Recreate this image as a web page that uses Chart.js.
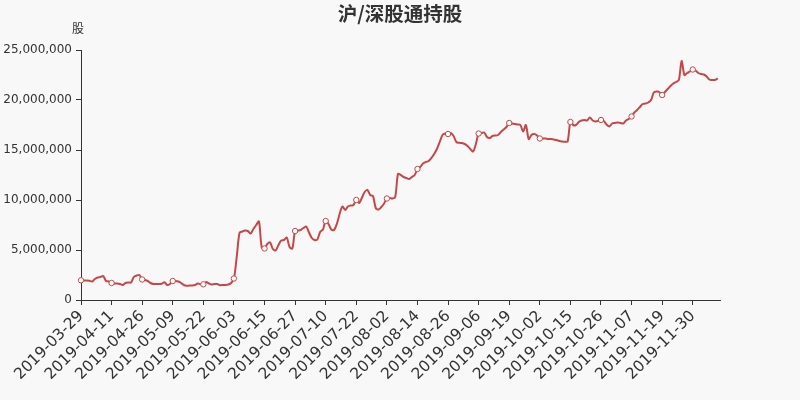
<!DOCTYPE html>
<html>
<head>
<meta charset="utf-8">
<script src="https://cdn.jsdelivr.net/npm/chart.js@4/dist/chart.umd.min.js"></script>
<style>
html,body{margin:0;padding:0;background:#f8f8f8;}
#wrap{width:800px;height:400px;}
canvas{display:block;}
</style>
</head>
<body>
<div id="wrap"><canvas id="c" width="800" height="400"></canvas></div>
<script>
const chartTitle = '沪/深股通持股';
const unitLabel = '股';
const tickLabels = ['2019-03-29','2019-04-11','2019-04-26','2019-05-09','2019-05-22','2019-06-03','2019-06-15','2019-06-27','2019-07-10','2019-07-22','2019-08-02','2019-08-14','2019-08-26','2019-09-06','2019-09-19','2019-10-02','2019-10-15','2019-10-26','2019-11-07','2019-11-19','2019-11-30'];
const pointsPerTick = 11;
// holdings in millions of shares, one per daily record
const holdingsMillion = [
1.97,1.95,1.95,1.92,1.85,2.10,2.25,2.30,2.40,1.90,1.85,
1.70,1.65,1.65,1.60,1.50,1.70,1.75,1.75,2.30,2.45,2.50,
2.05,2.00,1.90,1.70,1.60,1.60,1.60,1.62,1.77,1.50,1.60,
1.90,1.90,1.85,1.70,1.50,1.42,1.45,1.45,1.50,1.65,1.58,
1.57,1.80,1.65,1.55,1.60,1.60,1.48,1.50,1.50,1.55,1.70,
2.15,4.30,6.70,6.85,6.95,6.90,6.65,7.10,7.50,7.85,5.25,
5.15,5.60,5.75,5.10,4.95,5.50,5.95,6.00,6.25,5.30,5.15,
6.90,6.95,7.00,7.20,7.35,6.75,6.20,6.00,6.05,6.80,7.05,
7.90,7.60,7.05,7.00,7.60,8.60,9.35,9.00,9.35,9.45,9.50,
10.00,9.70,10.20,10.80,11.00,10.50,10.40,9.20,9.05,9.30,9.65,
10.15,10.20,10.15,10.30,12.60,12.50,12.30,12.20,12.10,12.30,12.50,
13.10,13.30,13.65,13.80,13.90,14.20,14.60,15.10,15.80,16.50,16.65,
16.60,16.70,16.40,15.80,15.72,15.70,15.60,15.40,15.10,14.85,15.60,
16.65,16.70,16.75,16.30,16.20,16.40,16.45,16.50,16.80,17.05,17.30,
17.70,17.65,17.60,17.55,17.50,16.85,17.50,16.10,16.50,16.60,16.45,
16.15,16.15,16.15,16.10,16.10,16.05,16.00,15.90,15.85,15.83,15.85,
17.80,17.50,17.50,17.80,17.95,18.00,17.95,18.25,17.95,17.85,17.90,
18.00,17.90,17.55,17.35,17.65,17.70,17.75,17.70,17.65,17.95,18.10,
18.35,18.75,19.00,19.30,19.60,19.65,19.75,20.00,20.75,20.85,20.80,
20.50,20.80,21.10,21.40,21.65,21.80,22.00,23.90,22.50,22.70,22.85,
23.05,22.95,22.70,22.60,22.55,22.35,22.05,22.00,22.00,22.17
];
const yTicksMillion = [0,5,10,15,20,25];

const FONT = '"DejaVu Sans","Noto Sans CJK SC",sans-serif';
const LINE = '#c44848';
const AXIS = '#333';

const textPlugin = {
  id: 'texts',
  beforeDraw(chart) {
    const c = chart.ctx;
    c.save();
    c.fillStyle = '#f8f8f8';
    c.fillRect(0, 0, chart.width, chart.height);
    c.restore();
  },
  afterDraw(chart) {
    const c = chart.ctx;
    c.save();
    c.fillStyle = '#333';
    c.textAlign = 'center';
    c.textBaseline = 'middle';
    c.font = 'bold 19.5px "Noto Sans CJK SC",sans-serif';
    c.fillText(chartTitle, 400, 14);
    c.font = '12px "Noto Sans CJK SC",sans-serif';
    c.fillText(unitLabel, chart.chartArea.left - 3, 28);
    c.restore();
  }
};

new Chart(document.getElementById('c'), {
  type: 'line',
  data: {
    datasets: [{
      data: holdingsMillion.map((v, i) => ({ x: i, y: v * 1e6 })),
      borderColor: LINE,
      borderWidth: 2,
      tension: 0.3,
      fill: false,
      clip: false,
      pointRadius: ctx => (ctx.dataIndex % pointsPerTick === 0 ? 2.7 : 0),
      pointBackgroundColor: '#fff',
      pointBorderColor: LINE,
      pointBorderWidth: 1
    }]
  },
  options: {
    responsive: false,
    animation: false,
    events: [],
    layout: { padding: { left: 0, top: 50, right: 80, bottom: 0 } },
    plugins: { legend: { display: false }, tooltip: { enabled: false }, title: { display: false } },
    scales: {
      x: {
        type: 'linear',
        min: 0,
        max: 229.8,
        afterBuildTicks: s => { s.ticks = tickLabels.map((_, i) => ({ value: i * pointsPerTick })); },
        afterFit: s => { s.height = 100; },
        grid: { drawOnChartArea: false, drawTicks: true, tickLength: 5, color: AXIS },
        border: { color: AXIS, width: 1 },
        ticks: {
          autoSkip: false, maxRotation: 45, minRotation: 45, padding: 2,
          color: AXIS, font: { size: 15.5, family: FONT },
          callback: v => tickLabels[Math.round(v / pointsPerTick)]
        }
      },
      y: {
        min: 0,
        max: 25e6,
        afterBuildTicks: s => { s.ticks = yTicksMillion.map(v => ({ value: v * 1e6 })); },
        afterFit: s => { s.width = 81; },
        grid: { drawOnChartArea: false, drawTicks: true, tickLength: 5, color: AXIS },
        border: { color: AXIS, width: 1 },
        ticks: {
          padding: 4, color: AXIS, font: { size: 12, family: FONT },
          callback: v => v.toLocaleString('en-US')
        }
      }
    }
  },
  plugins: [textPlugin]
});
</script>
</body>
</html>
